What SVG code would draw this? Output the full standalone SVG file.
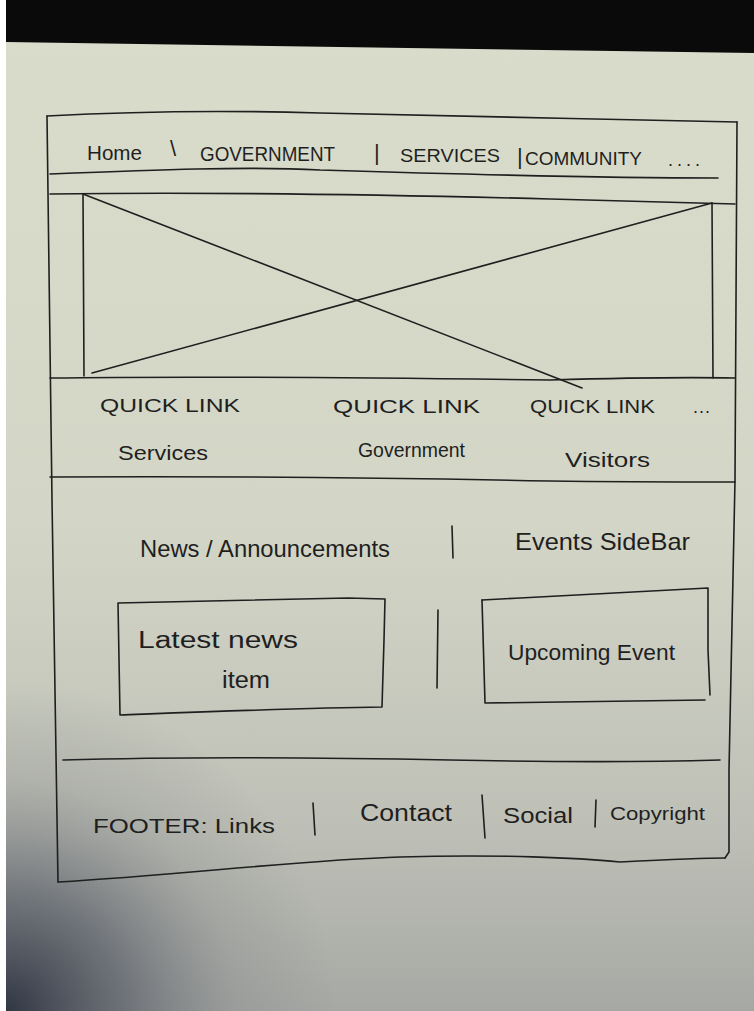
<svg xmlns="http://www.w3.org/2000/svg" width="754" height="1011" viewBox="0 0 754 1011">
<defs>
<linearGradient id="paper" x1="0" y1="0" x2="0" y2="1">
<stop offset="0" stop-color="#dadccb"/>
<stop offset="0.5" stop-color="#d3d6c6"/>
<stop offset="0.82" stop-color="#bdbfb6"/>
<stop offset="1" stop-color="#a6a8a4"/>
</linearGradient>
<radialGradient id="shadow" cx="6" cy="1011" r="330" gradientUnits="userSpaceOnUse">
<stop offset="0" stop-color="#2a303e" stop-opacity="0.95"/>
<stop offset="0.35" stop-color="#454b58" stop-opacity="0.6"/>
<stop offset="0.7" stop-color="#6a6e74" stop-opacity="0.2"/>
<stop offset="1" stop-color="#6a6e74" stop-opacity="0"/>
</radialGradient>
<style>
.ink{fill:none;stroke:#1f1f1f;stroke-width:1.6;stroke-linecap:round;stroke-linejoin:round}
.hw{font-family:"Liberation Sans","DejaVu Sans",sans-serif;fill:#1f1f1f}
</style>
</defs>
<rect x="0" y="0" width="754" height="1011" fill="#ffffff"/>
<polygon points="6,40 754,52 754,1011 6,1011" fill="url(#paper)"/>
<rect x="6" y="660" width="360" height="351" fill="url(#shadow)"/>
<polygon points="6,0 754,0 754,53 6,42" fill="#0a0a0a"/>

<g id="frame">
<path class="ink" d="M47,116 C120,112 220,110 320,113 C450,116 600,119 737,122"/>
<path class="ink" d="M47,116 L52,500 L58,882"/>
<path class="ink" d="M737,122 L735,480 L729,770 L729,852 L725,858"/>
<path class="ink" d="M58,882 C180,875 300,860 400,857 C500,854 580,858 620,862 C660,860 700,858 725,858"/>
</g>

<g id="nav">
<path class="ink" d="M50,174 C150,170 250,166 320,170 C450,174 600,178 718,178"/>
<text class="hw" x="87" y="160" font-size="20" textLength="55" lengthAdjust="spacingAndGlyphs">Home</text>
<text class="hw" x="170" y="156" font-size="22">\</text>
<text class="hw" x="200" y="161" font-size="20" textLength="135" lengthAdjust="spacingAndGlyphs">GOVERNMENT</text>
<text class="hw" x="374" y="160" font-size="22">|</text>
<text class="hw" x="400" y="162" font-size="19" textLength="100" lengthAdjust="spacingAndGlyphs">SERVICES</text>
<text class="hw" x="517" y="164" font-size="22">|</text>
<text class="hw" x="525" y="165" font-size="18" textLength="117" lengthAdjust="spacingAndGlyphs">COMMUNITY</text>
<text class="hw" x="668" y="166" font-size="18" textLength="32">....</text>
</g>

<g id="hero">
<path class="ink" d="M50,194 C200,192 400,195 550,199 C620,201 690,203 735,204"/>
<path class="ink" d="M83,194 L84,376"/>
<path class="ink" d="M712,203 L713,378"/>
<path class="ink" d="M83,194 L582,388"/>
<path class="ink" d="M712,203 L92,373"/>
<path class="ink" d="M50,378 C200,376 400,378 550,380 C620,378 690,377 735,378"/>
</g>

<g id="quicklinks">
<text class="hw" x="100" y="412" font-size="19" textLength="140" lengthAdjust="spacingAndGlyphs">QUICK LINK</text>
<text class="hw" x="333" y="413" font-size="19" textLength="147" lengthAdjust="spacingAndGlyphs">QUICK LINK</text>
<text class="hw" x="530" y="413" font-size="19" textLength="125" lengthAdjust="spacingAndGlyphs">QUICK LINK</text>
<text class="hw" x="693" y="413" font-size="18" textLength="17">...</text>
<text class="hw" x="118" y="460" font-size="21" textLength="90" lengthAdjust="spacingAndGlyphs">Services</text>
<text class="hw" x="358" y="457" font-size="21" textLength="107" lengthAdjust="spacingAndGlyphs">Government</text>
<text class="hw" x="565" y="467" font-size="21" textLength="85" lengthAdjust="spacingAndGlyphs">Visitors</text>
<path class="ink" d="M50,477 C200,476 400,478 550,481 C620,482 690,482 735,482"/>
</g>

<g id="news">
<text class="hw" x="140" y="557" font-size="24" textLength="250" lengthAdjust="spacingAndGlyphs">News / Announcements</text>
<path class="ink" d="M452,526 L453,558"/>
<text class="hw" x="515" y="550" font-size="24" textLength="175" lengthAdjust="spacingAndGlyphs">Events SideBar</text>
<path class="ink" d="M118,603 L348,598 L385,599 L384,640 L382,707 C300,708 200,712 120,715 L118,603"/>
<text class="hw" x="138" y="648" font-size="23" textLength="160" lengthAdjust="spacingAndGlyphs">Latest  news</text>
<text class="hw" x="222" y="688" font-size="23" textLength="48" lengthAdjust="spacingAndGlyphs">item</text>
<path class="ink" d="M438,610 L437,688"/>
<path class="ink" d="M482,600 C560,596 640,592 708,588 L708,650 L710,695"/>
<path class="ink" d="M482,600 L485,703 L705,700"/>
<text class="hw" x="508" y="660" font-size="22" textLength="167" lengthAdjust="spacingAndGlyphs">Upcoming Event</text>
</g>

<g id="footer">
<path class="ink" d="M63,760 C200,756 350,758 450,760 C550,762 650,762 720,760"/>
<text class="hw" x="93" y="833" font-size="21" textLength="182" lengthAdjust="spacingAndGlyphs">FOOTER: Links</text>
<path class="ink" d="M313,803 L315,835"/>
<text class="hw" x="360" y="821" font-size="23" textLength="92" lengthAdjust="spacingAndGlyphs">Contact</text>
<path class="ink" d="M482,795 L485,838"/>
<text class="hw" x="503" y="823" font-size="22" textLength="70" lengthAdjust="spacingAndGlyphs">Social</text>
<path class="ink" d="M596,800 L595,827"/>
<text class="hw" x="610" y="820" font-size="19" textLength="95" lengthAdjust="spacingAndGlyphs">Copyright</text>
</g>
</svg>
